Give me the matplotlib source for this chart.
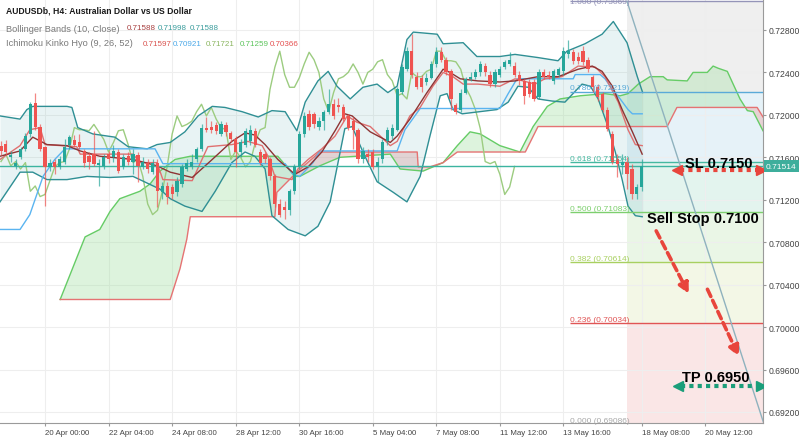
import numpy as np
import matplotlib
matplotlib.use('Agg')
import matplotlib.pyplot as plt
from matplotlib import transforms

plt.rcParams['font.family'] = ['Liberation Sans', 'DejaVu Sans']

# H4 candles, bar index 0 = 20 Apr 00:00
first_bar = -9
opens = [.7171, .7173, .7160, .7152, .7160, .7168, .7182, .7211, .7189,
         .7170, .7151, .7156, .7151, .7156, .7172, .7176, .7174, .7166, .7161,
         .7163, .7153, .7152, .7163, .7160, .7165, .7151, .7161, .7156, .7162,
         .7151, .7155, .7146, .7155, .7127, .7133, .7132, .7127, .7135, .7149,
         .7151, .7158, .7168, .7188, .7189, .7190, .7182, .7190, .7183, .7177,
         .7165, .7172, .7175, .7185, .7165, .7163, .7158, .7142, .7116, .7113,
         .7110, .7128, .7151, .7182, .7201, .7201, .7189, .7194, .7203, .7210,
         .7209, .7207, .7199, .7194, .7186, .7158, .7163, .7165, .7151, .7158,
         .7175, .7180, .7186, .7222, .7243, .7260, .7236, .7235, .7231, .7235,
         .7248, .7259, .7252, .7241, .7209, .7205, .7221, .7234, .7236, .7240,
         .7246, .7238, .7229, .7238, .7245, .7248, .7246, .7238, .7232, .7231,
         .7231, .7217, .7240, .7238, .7232, .7238, .7241, .7257, .7259, .7255,
         .7260, .7252, .7236, .7226, .7220, .7205, .7182, .7158, .7153, .7156,
         .7149, .7125, .7132]
highs = [.7175, .7176, .7166, .7158, .7170, .7183, .7212, .7221, .7191,
         .7171, .7158, .7158, .7161, .7177, .7181, .7181, .7182, .7168, .7165,
         .7185, .7158, .7163, .7166, .7172, .7168, .7163, .7165, .7168, .7165,
         .7160, .7158, .7158, .7158, .7137, .7137, .7135, .7141, .7154, .7158,
         .7163, .7170, .7191, .7198, .7194, .7193, .7194, .7193, .7185, .7180,
         .7177, .7188, .7190, .7188, .7168, .7165, .7160, .7144, .7121, .7119,
         .7130, .7154, .7185, .7203, .7205, .7203, .7198, .7205, .7224, .7215,
         .7216, .7210, .7201, .7198, .7188, .7170, .7168, .7168, .7160, .7177,
         .7189, .7191, .7226, .7248, .7264, .7276, .7240, .7238, .7239, .7251,
         .7264, .7264, .7255, .7243, .7211, .7224, .7236, .7240, .7243, .7251,
         .7249, .7241, .7243, .7246, .7252, .7259, .7250, .7241, .7234, .7234,
         .7234, .7243, .7243, .7241, .7243, .7245, .7264, .7271, .7262, .7259,
         .7265, .7255, .7238, .7229, .7222, .7207, .7185, .7163, .7163, .7160,
         .7154, .7135, .7158]
lows = [.7162, .7162, .7156, .7149, .7158, .7166, .7179, .7186, .7166,
        .7114, .7147, .7144, .7149, .7154, .7168, .7170, .7168, .7151, .7149,
        .7152, .7133, .7149, .7155, .7156, .7145, .7149, .7153, .7144, .7137,
        .7149, .7145, .7144, .7113, .7121, .7116, .7121, .7124, .7132, .7147,
        .7149, .7156, .7166, .7184, .7183, .7182, .7180, .7180, .7174, .7151,
        .7160, .7170, .7172, .7170, .7153, .7155, .7139, .7113, .7104, .7102,
        .7106, .7125, .7149, .7179, .7186, .7188, .7186, .7186, .7201, .7196,
        .7203, .7194, .7186, .7168, .7155, .7155, .7156, .7149, .7137, .7155,
        .7172, .7177, .7185, .7220, .7241, .7235, .7224, .7222, .7228, .7234,
        .7245, .7250, .7238, .7205, .7201, .7203, .7220, .7232, .7234, .7237,
        .7237, .7226, .7226, .7236, .7243, .7246, .7236, .7228, .7210, .7217,
        .7213, .7215, .7234, .7234, .7229, .7236, .7238, .7254, .7248, .7248,
        .7247, .7240, .7222, .7213, .7203, .7185, .7154, .7141, .7144, .7130,
        .7121, .7121, .7128]
closes = [.7166, .7165, .7162, .7155, .7168, .7180, .7210, .7189, .7168,
          .7151, .7155, .7151, .7158, .7170, .7179, .7172, .7170, .7155, .7156,
          .7154, .7155, .7160, .7158, .7166, .7147, .7160, .7156, .7163, .7152,
          .7156, .7149, .7155, .7128, .7133, .7123, .7125, .7138, .7151, .7155,
          .7156, .7168, .7188, .7186, .7186, .7185, .7191, .7184, .7177, .7165,
          .7174, .7185, .7186, .7172, .7155, .7158, .7142, .7116, .7106, .7110,
          .7128, .7152, .7182, .7199, .7189, .7191, .7194, .7203, .7210, .7199,
          .7207, .7196, .7188, .7186, .7158, .7166, .7160, .7151, .7156, .7174,
          .7186, .7188, .7224, .7245, .7260, .7238, .7226, .7226, .7235, .7248,
          .7259, .7252, .7240, .7215, .7203, .7221, .7234, .7236, .7240, .7248,
          .7240, .7229, .7240, .7243, .7250, .7252, .7238, .7232, .7218, .7220,
          .7215, .7240, .7236, .7236, .7241, .7243, .7260, .7260, .7251, .7251,
          .7250, .7243, .7226, .7217, .7205, .7187, .7156, .7154, .7156, .7144,
          .7125, .7132, .71514]

# Bollinger Bands (10, Close)
bb_up_x = [-9.2, -5.1, -3.7, -2.5, 4.5, 5.5, 6.7, 9.8, 14.3, 17.0, 20.9, 22.9,
           25.6, 28.6, 31.3, 34.2, 36.8, 40.3, 43.6, 46.4, 49.1, 51.5, 53.2,
           55.8, 57.9, 59.7, 62.4, 65.0, 67.9, 70.1, 72.0, 74.0, 75.3, 80.2,
           81.4, 85.5, 88.3, 93.0, 96.1, 100.8, 104.9, 106.7, 110.4, 113.9,
           116.2, 119.0, 121.1, 122.2]
bb_up = [.7199, .7196, .7205, .7208, .7208, .7207, .7188, .7182, .7179, .7170,
         .7168, .7172, .7174, .7184, .7199, .7208, .7207, .7203, .7198, .7204,
         .7203, .7185, .7212, .7232, .7241, .7227, .7215, .7226, .7229, .7221,
         .7227, .7271, .7278, .7276, .7267, .7268, .7255, .7255, .7257, .7254,
         .7251, .7260, .7267, .7276, .7288, .7268, .7236, .7221]
bb_mid_x = [-9.2, -5.1, -2.5, 0.4, 4.5, 7.2, 11.2, 18.0, 22.9, 25.6, 30.1, 34.2,
            38.2, 40.9, 42.9, 45.0, 47.6, 51.1, 53.8, 56.6, 59.3, 61.3, 62.8,
            66.5, 70.6, 72.0, 74.6, 78.1, 81.4, 82.8, 84.9, 88.5, 93.0, 96.1,
            100.8, 104.9, 109.0, 111.9, 113.9, 116.0, 118.0, 120.1, 122.1]
bb_mid = [.7161, .7166, .7179, .7172, .7171, .7166, .7161, .7158, .7152, .7146,
          .7141, .7158, .7175, .7183, .7181, .7172, .7158, .7144, .7151, .7165,
          .7185, .7201, .7199, .7184, .7174, .7180, .7196, .7221, .7243, .7240,
          .7234, .7232, .7231, .7232, .7236, .7236, .7243, .7246, .7241, .7227,
          .7205, .7184, .7163]
bb_lo_x = [-9.2, -5.1, -2.5, 0.4, 4.5, 8.6, 13.3, 18.0, 23.5, 25.6, 28.6, 32.1,
           34.8, 38.2, 40.9, 42.9, 45.0, 46.4, 49.7, 53.2, 55.8, 58.3, 61.3,
           62.8, 65.0, 67.9, 71.2, 74.0, 76.7, 78.7, 80.8, 82.2, 83.4, 85.3,
           92.4, 94.7, 96.7, 98.8, 100.8, 103.7, 106.3, 109.8, 111.5, 113.1,
           115.1, 116.6, 118.0, 119.2, 120.7, 122.1]
bb_lo = [.7118, .7146, .7146, .7139, .7139, .7142, .7141, .7142, .7130, .7121,
         .7114, .7109, .7128, .7155, .7165, .7161, .7149, .7105, .7092, .7086,
         .7095, .7118, .7187, .7189, .7165, .7137, .7127, .7118, .7142, .7180,
         .7218, .7220, .7205, .7201, .7205, .7212, .7227, .7226, .7215, .7213,
         .7212, .7229, .7227, .7215, .7189, .7165, .7139, .7114, .7105, .7104]

# Ichimoku Kinko Hyo (9, 26, 52)
tenkan_x = [-9.2, -5.1, -3.1, -1.0, 0.0, 6.5, 7.2, 18.0, 19.4, 22.9, 24.1, 30.1,
            32.1, 33.3, 38.2, 41.5, 44.4, 45.6, 47.0, 50.5, 51.7, 53.8, 56.6,
            59.3, 61.8, 63.8, 66.5, 70.6, 72.0, 74.6, 76.7, 79.3, 81.4, 83.4,
            85.5, 88.5, 93.0, 96.1, 100.2, 102.2, 105.7, 109.0, 112.5, 114.5,
            117.2, 119.2, 120.7, 122.1]
tenkan = [.7158, .7171, .7186, .7188, .7172, .7170, .7163, .7163, .7155, .7155,
          .7139, .7138, .7158, .7170, .7172, .7175, .7171, .7161, .7142, .7139,
          .7149, .7158, .7168, .7180, .7199, .7193, .7189, .7171, .7175, .7199,
          .7207, .7227, .7240, .7236, .7229, .7229, .7227, .7234, .7229, .7234,
          .7236, .7246, .7245, .7236, .7212, .7186, .7172, .7171]
kijun_x = [-9.2, -5.1, -3.1, -0.4, 2.0, 4.1, 22.5, 24.1, 49.1, 50.7, 52.1, 54.8,
           56.2, 72.0, 73.6, 76.7, 93.0, 94.7, 96.5, 108.0, 108.4, 113.5,
           114.5, 116.0, 117.6, 119.2, 120.1, 122.1]
kijun = [.7092, .7092, .7106, .7142, .7158, .7168, .7168, .7154, .7154, .7144,
         .7142, .7155, .7166, .7166, .7186, .7206, .7206, .7220, .7234, .7234,
         .7238, .7238, .7234, .7224, .7215, .7205, .7201, .7201]
span_a_x = [3.1, 8.2, 11.2, 13.3, 15.3, 19.4, 21.5, 23.5, 26.6, 29.7, 47.6, 51.1,
            52.1, 56.2, 60.3, 70.6, 72.6, 77.3, 81.4, 84.3, 86.9, 89.0, 93.0,
            97.1, 99.8, 102.7, 105.3, 109.4, 114.5, 117.6, 119.2, 121.3, 123.7,
            126.4, 127.2, 131.3, 132.5, 135.4, 136.6, 137.6, 139.5, 142.1,
            143.6, 144.8, 146.8]
span_a = [.7026, .7085, .7092, .7109, .7121, .7128, .7135, .7147, .7158, .7161,
          .7161, .7142, .7142, .7152, .7160, .7163, .7149, .7147, .7155, .7171,
          .7184, .7182, .7171, .7165, .7189, .7208, .7215, .7218, .7220, .7218,
          .7220, .7229, .7236, .7236, .7233, .7232, .7240, .7240, .7246, .7244,
          .7241, .7215, .7204, .7203, .7185]
span_b_x = [3.1, 25.6, 27.6, 29.0, 29.7, 47.0, 47.4, 51.7, 56.2, 76.1, 76.3,
            78.7, 81.4, 84.3, 98.2, 100.8, 127.2, 129.2, 145.6, 146.8]
span_b = [.7026, .7026, .7055, .7083, .7104, .7104, .7127, .7147, .7165, .7165,
          .7151, .7151, .7155, .7165, .7165, .7189, .7189, .7207, .7207, .7198]

# Fibonacci retracement
fib_levels = [1.0, 0.786, 0.618, 0.5, 0.382, 0.236, 0.0]
fib_prices = [0.73069, 0.72219, 0.71554, 0.71083, 0.70614, 0.70034, 0.69086]
fib_colors = ['#9494b8', '#5aaad8', '#45b8a0', '#7dcf6e', '#a8d060', '#e05555', '#a8a8a8']
fib_fills = ['#efefef', '#e6f2f8', '#e3f4ee', '#eaf6e6', '#f3f7e6', '#fae6e6']

bid = 0.71514

tick_pos = [0, 13, 26, 39, 52, 67, 80, 93, 106, 122, 135]
tick_labels = ['20 Apr 00:00', '22 Apr 04:00', '24 Apr 08:00', '28 Apr 12:00',
               '30 Apr 16:00', '5 May 04:00', '7 May 08:00', '11 May 12:00',
               '13 May 16:00', '18 May 08:00', '20 May 12:00']

fig = plt.figure(figsize=(8, 4.39), dpi=100)
ax = fig.add_axes([0, 15 / 439, 763 / 800, 424 / 439])
ax.set_xlim(-9.2, 146.8)
ax.set_ylim(0.69096, 0.73092)

# fib zone fills
fib_x0, fib_x1, line_x0 = 119.0, 146.8, 107.4
for k in range(len(fib_fills)):
    ax.fill_between([fib_x0, fib_x1], fib_prices[k + 1], fib_prices[k],
                    color=fib_fills[k], lw=0, zorder=0)

ax.grid(True, color='#eeeeee', lw=0.8, zorder=0.5)
ax.set_axisbelow(True)

# Ichimoku cloud
cx = np.union1d(span_a_x, span_b_x)
cx = cx[(cx >= max(span_a_x[0], span_b_x[0]))]
ca = np.interp(cx, span_a_x, span_a)
cb = np.interp(cx, span_b_x, span_b)
ax.fill_between(cx, ca, cb, where=ca >= cb, interpolate=True,
                color='#9fdf9f', alpha=0.35, lw=0, zorder=1)
ax.fill_between(cx, ca, cb, where=ca < cb, interpolate=True,
                color='#eaa0a0', alpha=0.4, lw=0, zorder=1)
ax.plot(span_a_x, span_a, color='#66cc66', lw=1, zorder=2)
ax.plot(span_b_x, span_b, color='#e57373', lw=1, zorder=2)

# Bollinger fill
bx = np.union1d(bb_up_x, bb_lo_x)
bu = np.interp(bx, bb_up_x, bb_up)
bl = np.interp(bx, bb_lo_x, bb_lo)
ax.fill_between(bx, bl, bu, color='#6bb5b8', alpha=0.15, lw=0, zorder=1.5)
ax.plot(bb_up_x, bb_up, color='#2f8f94', lw=1, zorder=3)
ax.plot(bb_lo_x, bb_lo, color='#2f8f94', lw=1, zorder=3)

# chikou span: close plotted 26 bars back
bars = np.arange(first_bar, first_bar + len(closes))
ax.plot(bars[26:] - 26, closes[26:], color='#9ccc80', lw=1, zorder=2.5)
ax.plot(kijun_x, kijun, color='#5ab4f0', lw=1, zorder=3)
ax.plot(tenkan_x, tenkan, color='#e07070', lw=1, zorder=3)
ax.plot(bb_mid_x, bb_mid, color='#8e3434', lw=1, zorder=3)

# candles
o = np.array(opens)
c = np.array(closes)
up = c >= o
cols = np.where(up, '#26a69a', '#ef5350')
ax.vlines(bars, lows, highs, colors=cols, lw=0.9, alpha=0.7, zorder=4)
ax.bar(bars, np.maximum(np.abs(c - o), 0.00004), bottom=np.minimum(o, c),
       width=0.66, color=cols, lw=0, zorder=5)

# fib lines and labels
for lvl, p, col in zip(fib_levels, fib_prices, fib_colors):
    ax.hlines(p, line_x0, fib_x1, color=col, lw=1, zorder=3.5)
    va = 'center' if lvl == 1.0 else 'bottom'
    off = 0.0 if lvl == 1.0 else 0.00003
    ax.text(line_x0, p + off, '%.3f (%.5f)' % (lvl, p), color=col,
            fontsize=6.0, va=va, ha='left', zorder=6)
ax.plot([fib_x0, 147.0], [fib_prices[0], fib_prices[-1]], color='#8fb2be', lw=1, zorder=3.5)

ax.axhline(bid, color='#3cb4a0', lw=1, zorder=3.6)

# trade annotations
bold = dict(fontsize=10.5, fontweight='bold', color='black', zorder=8)
ax.text(130.9, 0.7155, 'SL 0.7150', va='center', ha='left', **bold)
ax.text(123.1, 0.7103, 'Sell Stop 0.7100', va='center', ha='left', **bold)
ax.text(130.3, 0.6953, 'TP 0.6950', va='center', ha='left', **bold)

ax.plot([129.9, 145.9], [0.7148, 0.7148], color='#e8453c', lw=3, ls=(0, (1, 1)), zorder=7)
ax.plot([129.3], [0.7148], marker='<', ms=7, color='#e8453c', zorder=7)
ax.plot([146.4], [0.7148], marker='>', ms=7, color='#e8453c', zorder=7)
ax.plot([130.0, 145.9], [0.6944, 0.6944], color='#1a9e7a', lw=3, ls=(0, (1, 1)), zorder=7)
ax.plot([129.4], [0.6944], marker='<', ms=7, color='#1a9e7a', zorder=7)
ax.plot([146.4], [0.6944], marker='>', ms=7, color='#1a9e7a', zorder=7)

for (x0, y0), (x1, y1) in [((124.7, 0.7093), (131.9, 0.7029)),
                           ((135.2, 0.7038), (142.1, 0.6970))]:
    ax.annotate('', xy=(x1, y1), xytext=(x0, y0),
                arrowprops=dict(arrowstyle='-|>,head_length=0.6,head_width=0.3',
                                color='#e8453c', lw=2.6, ls=(0, (2.2, 1.2))),
                zorder=7)

# axes styling
for s in ['top', 'left']:
    ax.spines[s].set_visible(False)
for s in ['right', 'bottom']:
    ax.spines[s].set_color('#9a9a9a')
    ax.spines[s].set_linewidth(0.8)
ax.yaxis.tick_right()
yt = np.arange(0.692, 0.72801, 0.004)
ax.set_yticks(yt)
ax.set_yticklabels(['%.5f' % v for v in yt])
ax.set_xticks(tick_pos)
ax.set_xticklabels(tick_labels)
for lbl in ax.get_xticklabels():
    lbl.set_ha('left')
ax.tick_params(axis='both', colors='#9a9a9a', labelcolor='#444444',
               length=2.5, width=0.8, pad=1.5)
ax.tick_params(axis='y', labelsize=6.2)
ax.tick_params(axis='x', labelsize=5.7)

trans = transforms.blended_transform_factory(ax.transAxes, ax.transData)
ax.text(1.004, bid, '0.71514', transform=trans, color='white', fontsize=6.0,
        va='center', ha='left', zorder=9, clip_on=False,
        bbox=dict(boxstyle='square,pad=0.3', fc='#3eae9c', ec='none'))

# header texts
def ftxt(x, y, s, col, size=6.7, weight='normal'):
    fig.text(x / 800, 1 - y / 439, s, color=col, fontsize=size,
             fontweight=weight, va='center', ha='left')

ftxt(6, 11, 'AUDUSDb, H4: Australian Dollar vs US Dollar', '#1a1a1a', 6.2, 'bold')
ftxt(6, 29, 'Bollinger Bands (10, Close)', '#7a7a7a')
ftxt(127, 29, '0.71588', '#a84040', 5.8)
ftxt(158, 29, '0.71998', '#3a9c9c', 5.8)
ftxt(190, 29, '0.71588', '#3a9c9c', 5.8)
ftxt(6, 44, 'Ichimoku Kinko Hyo (9, 26, 52)', '#7a7a7a')
ftxt(143, 44, '0.71597', '#d9534f', 5.8)
ftxt(173, 44, '0.70921', '#4aa8e8', 5.8)
ftxt(206, 44, '0.71721', '#8ab55f', 5.8)
ftxt(240, 44, '0.71259', '#5cc45c', 5.8)
ftxt(270, 44, '0.70366', '#e55050', 5.8)

fig.savefig('out.png', dpi=100)
